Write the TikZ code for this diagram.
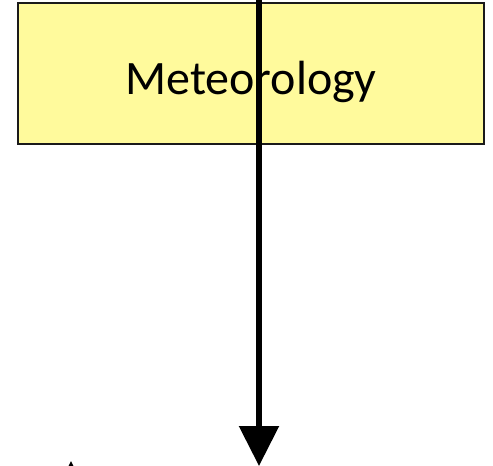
\documentclass[tikz,border=0pt]{standalone}
\usepackage{fontspec}
\setmainfont{Carlito}
\usetikzlibrary{arrows.meta, positioning, calc}
\definecolor{boxfill}{HTML}{FFFA9C}
\definecolor{boxline}{HTML}{1A1A1A}
\newcommand{\topicbox}[3]{%
  \node[draw=boxline, line width=1.3pt, fill=boxfill,
        minimum width=466pt, minimum height=141pt, inner sep=0pt,
        text height=41pt, text depth=0pt, align=center] (#1) at (#2) {#3};}

\begin{document}
\begin{tikzpicture}[x=1pt, y=-1pt, font=\fontsize{48pt}{56pt}\selectfont]
      \useasboundingbox (0,0) rectangle (493,466);
      \topicbox{meteo}{251,73.5}{Meteorology}
      \coordinate (flowin) at (259,-20);
      \coordinate (flowout) at (259,466);
      \coordinate (upsrc) at (71,520);
      \coordinate (upend) at (71,461);
      \draw[-{Triangle[width=39pt, length=40pt]}, line width=5.5pt] (flowin) -- (flowout);
      \draw[-{Triangle[width=39pt, length=40pt]}, line width=5.5pt] (upsrc) -- (upend);
    \end{tikzpicture}
\end{document}
